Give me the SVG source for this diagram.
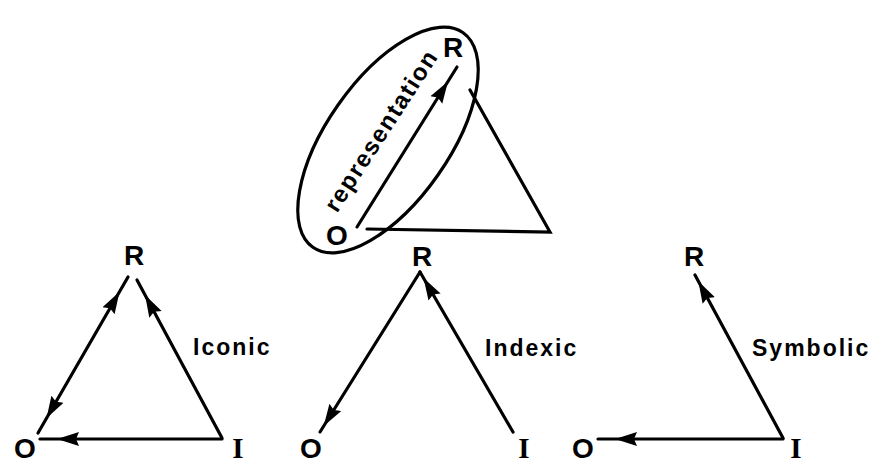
<svg xmlns="http://www.w3.org/2000/svg" width="872" height="464" viewBox="0 0 872 464">
<style>
.ln{stroke:#000;stroke-width:3.2;fill:none;stroke-linecap:round}
.lt{font-family:"Liberation Sans",Arial,sans-serif;font-weight:bold;font-size:28px;fill:#000;text-anchor:middle}
.li{font-family:"Liberation Serif","Times New Roman",serif;font-weight:bold;font-size:29px;fill:#000;text-anchor:middle}
.lb{font-family:"Liberation Sans",Arial,sans-serif;font-weight:bold;font-size:23px;letter-spacing:2px;fill:#000}
.rp{font-family:"Liberation Sans",Arial,sans-serif;font-weight:bold;font-size:24px;letter-spacing:1.5px;fill:#000;text-anchor:middle}
</style>
<defs>
<marker id="ah" markerUnits="userSpaceOnUse" markerWidth="42" markerHeight="18" viewBox="0 0 42 18" refX="39" refY="9" orient="auto-start-reverse"><path d="M0,2 L22,9 L0,16 L3,9 z" fill="#000"/></marker>
<marker id="ah2" markerUnits="userSpaceOnUse" markerWidth="32" markerHeight="18" viewBox="0 0 32 18" refX="29" refY="9" orient="auto-start-reverse"><path d="M0,2 L22,9 L0,16 L3,9 z" fill="#000"/></marker>
</defs>
<rect width="872" height="464" fill="#fff"/>
<g id="connectors">
<ellipse class="ln" cx="388" cy="140" rx="131" ry="61" transform="rotate(-55 388 140)"/>
<line class="ln" x1="357" y1="227" x2="457" y2="67" marker-end="url(#ah)"/>
<polyline class="ln" points="470,90 550,232 367,229"/>
<line class="ln" x1="38" y1="433" x2="128" y2="277" marker-start="url(#ah)" marker-end="url(#ah)"/>
<line class="ln" x1="222" y1="438" x2="137" y2="280" marker-end="url(#ah)"/>
<line class="ln" x1="222" y1="439" x2="40" y2="439" marker-end="url(#ah)"/>
<line class="ln" x1="420" y1="272" x2="320" y2="432" marker-end="url(#ah2)"/>
<line class="ln" x1="513" y1="432" x2="420" y2="272" marker-end="url(#ah2)"/>
<line class="ln" x1="783" y1="438" x2="695" y2="275" marker-end="url(#ah2)"/>
<line class="ln" x1="783" y1="439" x2="598" y2="439" marker-end="url(#ah)"/>
</g>
<g id="top-R"><text class="lt" x="453" y="57">R</text></g>
<g id="top-O"><text class="lt" x="337" y="245">O</text></g>
<g id="top-label"><text class="rp" transform="translate(388,135) rotate(-57)">representation</text></g>
<g id="iconic-R"><text class="lt" x="134" y="265">R</text></g>
<g id="iconic-O"><text class="lt" x="25" y="458">O</text></g>
<g id="iconic-I"><text class="li" x="238" y="458">I</text></g>
<g id="iconic-label"><text class="lb" x="193" y="355">Iconic</text></g>
<g id="indexic-R"><text class="lt" x="422" y="266">R</text></g>
<g id="indexic-O"><text class="lt" x="311" y="458">O</text></g>
<g id="indexic-I"><text class="li" x="524" y="458">I</text></g>
<g id="indexic-label"><text class="lb" x="485" y="356">Indexic</text></g>
<g id="symbolic-R"><text class="lt" x="694" y="266">R</text></g>
<g id="symbolic-O"><text class="lt" x="583" y="458">O</text></g>
<g id="symbolic-I"><text class="li" x="796" y="458">I</text></g>
<g id="symbolic-label"><text class="lb" x="752" y="356">Symbolic</text></g>
</svg>
